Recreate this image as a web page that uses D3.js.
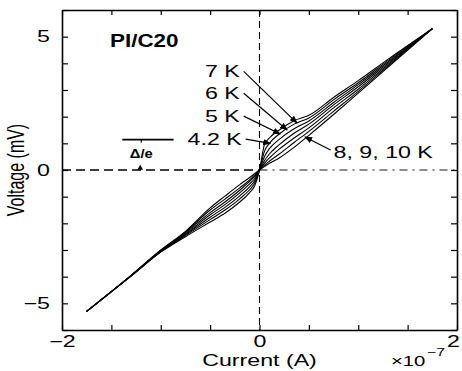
<!DOCTYPE html>
<html>
<head>
<meta charset="utf-8">
<script src="https://cdn.jsdelivr.net/npm/d3@7"></script>
<style>
  html, body { margin: 0; padding: 0; background: #fff; }
  svg { display: block; font-family: "Liberation Sans", Arial, sans-serif; }
</style>
</head>
<body>
<div id="chart"></div>
<script>
// current in units of 1e-7 A, voltage in mV
const currents = [-1.75, -1.3, -1.0, -0.75, -0.5, -0.35, -0.2, -0.1, -0.05, 0,
                  0.05, 0.1, 0.2, 0.35, 0.5, 0.75, 1.0, 1.3, 1.75];
const temps = ['4.2 K', '5 K', '6 K', '7 K', '8 K', '9 K', '10 K'];
const v42 = [-5.3, -3.98, -3.08, -2.5, -1.95, -1.62, -1.2, -0.85, -0.6, 0,
             0.95, 1.2, 1.5, 1.85, 2.05, 2.72, 3.35, 4.15, 5.3];
const v5  = [-5.3, -3.97, -3.07, -2.46, -1.86, -1.5, -1.08, -0.74, -0.5, 0,
             0.7, 1.0, 1.35, 1.72, 1.95, 2.63, 3.27, 4.1, 5.3];
const v6  = [-5.3, -3.97, -3.06, -2.43, -1.77, -1.4, -0.97, -0.63, -0.41, 0,
             0.5, 0.8, 1.15, 1.55, 1.84, 2.53, 3.2, 4.05, 5.3];
const v7  = [-5.3, -3.96, -3.04, -2.4, -1.68, -1.3, -0.86, -0.52, -0.33, 0,
             0.35, 0.6, 0.95, 1.38, 1.72, 2.44, 3.12, 4.0, 5.3];
const v8  = [-5.3, -3.96, -3.03, -2.36, -1.6, -1.2, -0.76, -0.43, -0.25, 0,
             0.25, 0.45, 0.78, 1.2, 1.58, 2.33, 3.03, 3.95, 5.3];
const v9  = [-5.3, -3.95, -3.02, -2.33, -1.5, -1.09, -0.67, -0.37, -0.19, 0,
             0.18, 0.33, 0.6, 1.03, 1.45, 2.2, 2.95, 3.9, 5.3];
const v10 = [-5.3, -3.95, -3.0, -2.3, -1.42, -0.98, -0.55, -0.28, -0.14, 0,
             0.13, 0.25, 0.45, 0.85, 1.3, 2.08, 2.88, 3.85, 5.3];
const series = [v42, v5, v6, v7, v8, v9, v10];

const xTicks = [-2, -1.5, -1, -0.5, 0, 0.5, 1, 1.5, 2];
const xLabels = [-2, 0, 2];
const yTicks = [-6, -5, -4, -3, -2, -1, 0, 1, 2, 3, 4, 5, 6];
const yLabels = [-5, 0, 5];

// label text, arrow start [I, V], arrow end [I, V]
const arrowLabels = ['7 K', '6 K', '5 K', '4.2 K'];
const arrowStarts = [[-0.16, 3.7], [-0.16, 2.88], [-0.16, 2.02], [-0.14, 1.16]];
const arrowEnds   = [[0.38, 1.76], [0.28, 1.5], [0.21, 1.35], [0.11, 1.0]];
const groupLabel = '8, 9, 10 K';
const groupStart = [0.72, 0.75];
const groupEnd   = [0.46, 1.24];
const gapLevel = 1.14;          // Δ/e marker voltage
const gapSpan = [-1.39, -0.87]; // extent of Δ/e bar in current

const W = 462, H = 371;
const m = {left: 62, right: 457, top: 10, bottom: 330};
const sx = 1.45;

const svg = d3.select('#chart')
  .append('svg')
  .attr('width', W)
  .attr('height', H);

const x = d3.scaleLinear().domain([-2, 2]).range([m.left, m.right]);
const y = d3.scaleLinear().domain([-6, 6]).range([m.bottom, m.top]);

svg.append('defs')
  .append('marker')
  .attr('id', 'arrow')
  .attr('viewBox', '0 0 10 10')
  .attr('refX', 9).attr('refY', 5)
  .attr('markerWidth', 8).attr('markerHeight', 8)
  .attr('markerUnits', 'userSpaceOnUse')
  .attr('orient', 'auto')
  .append('path')
  .attr('d', 'M0,1 L10,5 L0,9 Z')
  .attr('fill', '#000');

function stretchedText(parent, px, py, str, size, weight) {
  return parent.append('g')
    .attr('transform', 'translate(' + px + ',' + py + ') scale(' + sx + ',1)')
    .append('text')
    .attr('font-size', size)
    .attr('font-weight', weight || 'normal')
    .attr('fill', '#000')
    .text(str);
}

// zero lines
svg.append('line')
  .attr('x1', x(-2)).attr('x2', x(0))
  .attr('y1', y(0)).attr('y2', y(0))
  .attr('stroke', '#000').attr('stroke-width', 1.6)
  .attr('stroke-dasharray', '9,5');
svg.append('line')
  .attr('x1', x(0)).attr('x2', x(2))
  .attr('y1', y(0)).attr('y2', y(0))
  .attr('stroke', '#000').attr('stroke-width', 0.9)
  .attr('stroke-dasharray', '8,5,2,5');
svg.append('line')
  .attr('x1', x(0)).attr('x2', x(0))
  .attr('y1', y(6)).attr('y2', y(-6))
  .attr('stroke', '#000').attr('stroke-width', 1.1)
  .attr('stroke-dasharray', '7,4');

// axes
const fmt = labels => d => labels.includes(d) ? (d < 0 ? '\u2212' + (-d) : String(d)) : '';

const xAxis = svg.append('g')
  .attr('transform', 'translate(0,' + m.bottom + ')')
  .call(d3.axisBottom(x).tickValues(xTicks).tickSizeInner(-5).tickSizeOuter(0)
    .tickPadding(6).tickFormat(fmt(xLabels)));
svg.append('g')
  .attr('transform', 'translate(0,' + m.top + ')')
  .call(d3.axisTop(x).tickValues(xTicks).tickSizeInner(-5).tickSizeOuter(0).tickFormat(''));
const yAxis = svg.append('g')
  .attr('transform', 'translate(' + m.left + ',0)')
  .call(d3.axisLeft(y).tickValues(yTicks).tickSizeInner(-6).tickSizeOuter(0)
    .tickPadding(12).tickFormat(fmt(yLabels)));
svg.append('g')
  .attr('transform', 'translate(' + m.right + ',0)')
  .call(d3.axisRight(y).tickValues(yTicks).tickSizeInner(-6).tickSizeOuter(0).tickFormat(''));

svg.selectAll('.domain').attr('stroke', '#000').attr('stroke-width', 1.6);
svg.selectAll('.tick line').attr('stroke', '#000').attr('stroke-width', 1.2);
svg.selectAll('.tick text')
  .attr('font-family', '"Liberation Sans", Arial, sans-serif')
  .attr('font-size', 16)
  .attr('fill', '#000');
xAxis.selectAll('.tick text')
  .attr('transform', 'scale(' + sx + ',1)')
  .attr('dx', d => d === 2 ? -4 / sx : 0);
yAxis.selectAll('.tick text')
  .attr('transform', 'scale(' + sx + ',1)')
  .attr('x', -12 / sx);

// curves
const line = d3.line()
  .curve(d3.curveMonotoneX)
  .x((d, i) => x(currents[i]))
  .y(d => y(d));

svg.append('g')
  .selectAll('path')
  .data(series)
  .join('path')
  .attr('d', line)
  .attr('fill', 'none')
  .attr('stroke', '#000')
  .attr('stroke-width', 1.1)
  .append('title')
  .text((d, i) => temps[i]);

// annotations
arrowLabels.forEach((lab, i) => {
  const s = arrowStarts[i], e = arrowEnds[i];
  svg.append('line')
    .attr('x1', x(s[0])).attr('y1', y(s[1]))
    .attr('x2', x(e[0])).attr('y2', y(e[1]))
    .attr('stroke', '#000').attr('stroke-width', 1.2)
    .attr('marker-end', 'url(#arrow)');
  stretchedText(svg, x(s[0]) - 4, y(s[1]) + 6, lab, 16)
    .attr('text-anchor', 'end');
});

svg.append('line')
  .attr('x1', x(groupStart[0])).attr('y1', y(groupStart[1]))
  .attr('x2', x(groupEnd[0])).attr('y2', y(groupEnd[1]))
  .attr('stroke', '#000').attr('stroke-width', 1.2)
  .attr('marker-end', 'url(#arrow)');
stretchedText(svg, x(groupStart[0]) + 3, y(groupStart[1]) + 8, groupLabel, 16);

// Δ/e bar
svg.append('line')
  .attr('x1', x(gapSpan[0])).attr('x2', x(gapSpan[1]))
  .attr('y1', y(gapLevel)).attr('y2', y(gapLevel))
  .attr('stroke', '#000').attr('stroke-width', 1.6);
const gapMid = x(gapSpan[0]) + 0.37 * (x(gapSpan[1]) - x(gapSpan[0]));
svg.append('line')
  .attr('x1', gapMid).attr('x2', gapMid)
  .attr('y1', y(gapLevel)).attr('y2', y(gapLevel) + 3)
  .attr('stroke', '#000').attr('stroke-width', 1.2);
svg.append('path')
  .attr('d', d3.symbol(d3.symbolTriangle, 14)())
  .attr('transform', 'translate(' + (gapMid - 1) + ',' + (y(0) - 2) + ')')
  .attr('fill', '#000');
stretchedText(svg, gapMid, y(gapLevel) + 18, 'Δ/e', 12, 'bold')
  .attr('text-anchor', 'middle')
  .attr('transform', 'scale(0.85,1)');

// titles
stretchedText(svg, 110, 47, 'PI/C20', 18, 'bold').attr('transform', 'scale(0.86,1)');
stretchedText(svg, x(0), 366, 'Current (A)', 16).attr('text-anchor', 'middle');
stretchedText(svg, 391, 366, '\u00d710', 14);
stretchedText(svg, 427, 356, '\u22127', 11);

svg.append('g')
  .attr('transform', 'translate(24,' + y(0) + ') scale(' + sx + ',1) rotate(-90)')
  .append('text')
  .attr('text-anchor', 'middle')
  .attr('font-size', 16)
  .attr('fill', '#000')
  .text('Voltage (mV)');
</script>
</body>
</html>
